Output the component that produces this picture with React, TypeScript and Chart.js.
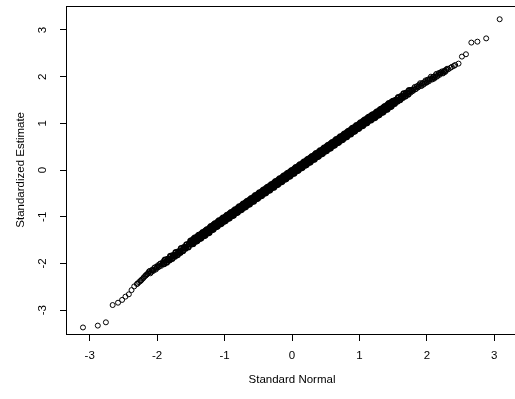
import { useEffect, useRef } from "react";
import { Chart, registerables } from "chart.js";

Chart.register(...registerables);

// ---- Data (x = standard normal quantile, y = standardized estimate) ----
const lowerTailX: number[] = [
  -3.10, -2.88, -2.76, -2.66, -2.58, -2.52, -2.47, -2.42, -2.38, -2.34, -2.30, -2.29, -2.27, -2.25, -2.24, -2.23,
  -2.21, -2.20, -2.18, -2.17, -2.16, -2.15, -2.14,
];
const lowerTailY: number[] = [
  -3.37, -3.33, -3.26, -2.89, -2.84, -2.78, -2.71, -2.66, -2.57, -2.49, -2.44, -2.43, -2.40, -2.38, -2.36, -2.35,
  -2.32, -2.30, -2.27, -2.26, -2.24, -2.23, -2.22,
];

const lowerOuterX: number[] = [
  -2.13, -2.12, -2.11, -2.10, -2.09, -2.08, -2.07, -2.06, -2.05, -2.04, -2.03, -2.02, -2.01, -2.00, -1.99, -1.98,
  -1.97, -1.96, -1.95, -1.94, -1.93, -1.92, -1.91,
];
const lowerOuterY: number[] = [
  -2.20, -2.17, -2.16, -2.21, -2.19, -2.15, -2.13, -2.16, -2.14, -2.09, -2.08, -2.13, -2.10, -2.07, -2.04, -2.08,
  -2.06, -2.01, -2.00, -2.05, -2.02, -1.99, -1.96,
];

const lowerInnerX: number[] = [
  -1.90, -1.88, -1.86, -1.84, -1.82, -1.80, -1.78, -1.76, -1.74, -1.72, -1.70, -1.68, -1.66, -1.64, -1.62, -1.60,
  -1.58, -1.56, -1.54, -1.52,
];
const lowerInnerY: number[] = [
  -2.00, -1.93, -1.97, -1.91, -1.92, -1.85, -1.89, -1.83, -1.84, -1.77, -1.81, -1.75, -1.76, -1.68, -1.72, -1.66,
  -1.67, -1.60, -1.64, -1.58,
];

const centralX: number[] = [
  -1.50, -1.49, -1.48, -1.47, -1.46, -1.45, -1.44, -1.43, -1.42, -1.41, -1.40, -1.39,
  -1.38, -1.37, -1.36, -1.35, -1.34, -1.33, -1.32, -1.31, -1.30, -1.29, -1.28, -1.27,
  -1.26, -1.25, -1.24, -1.23, -1.22, -1.21, -1.20, -1.19, -1.18, -1.17, -1.16, -1.15,
  -1.14, -1.13, -1.12, -1.11, -1.10, -1.09, -1.08, -1.07, -1.06, -1.05, -1.04, -1.03,
  -1.02, -1.01, -1.00, -0.99, -0.98, -0.97, -0.96, -0.95, -0.94, -0.93, -0.92, -0.91,
  -0.90, -0.89, -0.88, -0.87, -0.86, -0.85, -0.84, -0.83, -0.82, -0.81, -0.80, -0.79,
  -0.78, -0.77, -0.76, -0.75, -0.74, -0.73, -0.72, -0.71, -0.70, -0.69, -0.68, -0.67,
  -0.66, -0.65, -0.64, -0.63, -0.62, -0.61, -0.60, -0.59, -0.58, -0.57, -0.56, -0.55,
  -0.54, -0.53, -0.52, -0.51, -0.50, -0.49, -0.48, -0.47, -0.46, -0.45, -0.44, -0.43,
  -0.42, -0.41, -0.40, -0.39, -0.38, -0.37, -0.36, -0.35, -0.34, -0.33, -0.32, -0.31,
  -0.30, -0.29, -0.28, -0.27, -0.26, -0.25, -0.24, -0.23, -0.22, -0.21, -0.20, -0.19,
  -0.18, -0.17, -0.16, -0.15, -0.14, -0.13, -0.12, -0.11, -0.10, -0.09, -0.08, -0.07,
  -0.06, -0.05, -0.04, -0.03, -0.02, -0.01, 0.00, 0.01, 0.02, 0.03, 0.04, 0.05,
  0.06, 0.07, 0.08, 0.09, 0.10, 0.11, 0.12, 0.13, 0.14, 0.15, 0.16, 0.17,
  0.18, 0.19, 0.20, 0.21, 0.22, 0.23, 0.24, 0.25, 0.26, 0.27, 0.28, 0.29,
  0.30, 0.31, 0.32, 0.33, 0.34, 0.35, 0.36, 0.37, 0.38, 0.39, 0.40, 0.41,
  0.42, 0.43, 0.44, 0.45, 0.46, 0.47, 0.48, 0.49, 0.50, 0.51, 0.52, 0.53,
  0.54, 0.55, 0.56, 0.57, 0.58, 0.59, 0.60, 0.61, 0.62, 0.63, 0.64, 0.65,
  0.66, 0.67, 0.68, 0.69, 0.70, 0.71, 0.72, 0.73, 0.74, 0.75, 0.76, 0.77,
  0.78, 0.79, 0.80, 0.81, 0.82, 0.83, 0.84, 0.85, 0.86, 0.87, 0.88, 0.89,
  0.90, 0.91, 0.92, 0.93, 0.94, 0.95, 0.96, 0.97, 0.98, 0.99, 1.00, 1.01,
  1.02, 1.03, 1.04, 1.05, 1.06, 1.07, 1.08, 1.09, 1.10, 1.11, 1.12, 1.13,
  1.14, 1.15, 1.16, 1.17, 1.18, 1.19, 1.20, 1.21, 1.22, 1.23, 1.24, 1.25,
  1.26, 1.27, 1.28, 1.29, 1.30, 1.31, 1.32, 1.33, 1.34, 1.35, 1.36, 1.37,
  1.38, 1.39, 1.40, 1.41, 1.42, 1.43, 1.44, 1.45, 1.46, 1.47, 1.48, 1.49,
];
const centralY: number[] = [
  -1.52, -1.58, -1.53, -1.57, -1.49, -1.52, -1.46, -1.52, -1.47, -1.51, -1.43, -1.46,
  -1.40, -1.46, -1.41, -1.45, -1.37, -1.40, -1.34, -1.40, -1.35, -1.39, -1.31, -1.34,
  -1.28, -1.34, -1.29, -1.33, -1.25, -1.28, -1.21, -1.27, -1.22, -1.26, -1.18, -1.21,
  -1.15, -1.21, -1.16, -1.20, -1.12, -1.15, -1.09, -1.15, -1.10, -1.14, -1.06, -1.09,
  -1.03, -1.09, -1.04, -1.08, -1.00, -1.03, -0.97, -1.03, -0.98, -1.02, -0.94, -0.97,
  -0.91, -0.97, -0.92, -0.96, -0.88, -0.91, -0.85, -0.91, -0.86, -0.90, -0.82, -0.85,
  -0.79, -0.85, -0.80, -0.84, -0.76, -0.79, -0.73, -0.79, -0.74, -0.78, -0.70, -0.73,
  -0.67, -0.73, -0.68, -0.72, -0.64, -0.67, -0.61, -0.67, -0.62, -0.66, -0.58, -0.61,
  -0.55, -0.61, -0.56, -0.60, -0.52, -0.55, -0.49, -0.55, -0.50, -0.54, -0.46, -0.49,
  -0.43, -0.49, -0.44, -0.48, -0.40, -0.43, -0.37, -0.43, -0.38, -0.42, -0.34, -0.37,
  -0.31, -0.37, -0.32, -0.36, -0.28, -0.31, -0.25, -0.31, -0.26, -0.30, -0.22, -0.25,
  -0.19, -0.25, -0.20, -0.24, -0.16, -0.19, -0.13, -0.19, -0.14, -0.18, -0.10, -0.13,
  -0.07, -0.13, -0.08, -0.12, -0.04, -0.07, -0.01, -0.07, -0.02, -0.06, 0.02, -0.01,
  0.05, -0.01, 0.04, 0.00, 0.08, 0.05, 0.11, 0.05, 0.10, 0.06, 0.14, 0.11,
  0.17, 0.11, 0.16, 0.12, 0.20, 0.17, 0.23, 0.17, 0.22, 0.18, 0.26, 0.23,
  0.29, 0.23, 0.28, 0.24, 0.32, 0.29, 0.35, 0.29, 0.34, 0.30, 0.38, 0.35,
  0.41, 0.35, 0.40, 0.36, 0.44, 0.41, 0.47, 0.41, 0.46, 0.42, 0.50, 0.47,
  0.53, 0.47, 0.52, 0.48, 0.56, 0.53, 0.59, 0.53, 0.58, 0.54, 0.62, 0.59,
  0.65, 0.59, 0.64, 0.60, 0.68, 0.65, 0.71, 0.65, 0.70, 0.66, 0.74, 0.71,
  0.77, 0.71, 0.76, 0.72, 0.80, 0.77, 0.83, 0.77, 0.82, 0.78, 0.86, 0.83,
  0.89, 0.83, 0.88, 0.84, 0.92, 0.89, 0.95, 0.89, 0.94, 0.90, 0.98, 0.95,
  1.01, 0.95, 1.00, 0.96, 1.04, 1.01, 1.07, 1.01, 1.06, 1.02, 1.10, 1.07,
  1.13, 1.07, 1.12, 1.08, 1.16, 1.13, 1.18, 1.12, 1.17, 1.13, 1.21, 1.18,
  1.24, 1.18, 1.23, 1.19, 1.27, 1.24, 1.30, 1.24, 1.29, 1.25, 1.33, 1.30,
  1.36, 1.30, 1.35, 1.31, 1.39, 1.36, 1.42, 1.36, 1.41, 1.37, 1.45, 1.42,
];

const upperInnerX: number[] = [1.50, 1.52, 1.54, 1.56, 1.58, 1.60, 1.62, 1.64, 1.66, 1.68, 1.70, 1.72, 1.74];
const upperInnerY: number[] = [1.47, 1.43, 1.49, 1.48, 1.55, 1.51, 1.57, 1.56, 1.63, 1.59, 1.65, 1.63, 1.70];

const upperOuterX: number[] = [
  1.75, 1.76, 1.77, 1.78, 1.79, 1.80, 1.81, 1.82, 1.83, 1.84, 1.85, 1.86, 1.87, 1.88, 1.89, 1.90,
  1.91, 1.92, 1.93, 1.94, 1.95, 1.96, 1.97, 1.98, 1.99, 2.00, 2.01, 2.02, 2.03, 2.04, 2.05, 2.06,
  2.07, 2.08, 2.09, 2.10, 2.11, 2.12, 2.13, 2.14, 2.15, 2.16, 2.17, 2.18, 2.19, 2.20, 2.21, 2.22,
  2.23, 2.24, 2.25, 2.26, 2.27, 2.28, 2.29, 2.30,
];
const upperOuterY: number[] = [
  1.68, 1.66, 1.71, 1.72, 1.69, 1.71, 1.75, 1.78, 1.73, 1.74, 1.79, 1.80, 1.77, 1.79, 1.83, 1.86,
  1.81, 1.80, 1.86, 1.86, 1.83, 1.85, 1.89, 1.92, 1.87, 1.88, 1.93, 1.94, 1.90, 1.93, 1.96, 2.00,
  1.95, 1.94, 1.99, 2.00, 1.96, 1.99, 2.03, 2.06, 2.00, 2.02, 2.05, 2.08, 2.04, 2.07, 2.09, 2.11,
  2.08, 2.07, 2.11, 2.13, 2.10, 2.12, 2.15, 2.17,
];

const upperTailX: number[] = [2.32, 2.35, 2.37, 2.40, 2.42, 2.47, 2.52, 2.58, 2.66, 2.75, 2.88, 3.08];
const upperTailY: number[] = [2.16, 2.19, 2.21, 2.23, 2.25, 2.28, 2.43, 2.48, 2.73, 2.75, 2.82, 3.23];

// densely overplotted core of the plot vs. sparser ends
const coreX: number[] = [...lowerInnerX, ...centralX, ...upperInnerX];
const coreY: number[] = [...lowerInnerY, ...centralY, ...upperInnerY];
const sparseX: number[] = [...lowerTailX, ...lowerOuterX, ...upperOuterX, ...upperTailX];
const sparseY: number[] = [...lowerTailY, ...lowerOuterY, ...upperOuterY, ...upperTailY];

const xTicks: number[] = [-3, -2, -1, 0, 1, 2, 3];
const yTicks: number[] = [-3, -2, -1, 0, 1, 2, 3];
const xTitle = "Standard Normal";
const yTitle = "Standardized Estimate";

const FONT = "'Liberation Sans', Arial, Helvetica, sans-serif";

const framePlugin = {
  id: "frameBox",
  afterDatasetsDraw(chart: any) {
    const { ctx, chartArea } = chart;
    ctx.save();
    ctx.strokeStyle = "#000";
    ctx.lineWidth = 1;
    const l = Math.round(chartArea.left) - 0.5;
    const t = Math.round(chartArea.top) + 0.5;
    const r = Math.round(chartArea.right) + 0.5;
    const b = Math.round(chartArea.bottom) + 0.5;
    ctx.strokeRect(l, t, r - l, b - t);
    ctx.restore();
  },
};

export default function App() {
  const ref = useRef<HTMLCanvasElement>(null);

  useEffect(() => {
    const canvas = ref.current;
    if (!canvas) return;
    const toPts = (xs: number[], ys: number[]) => xs.map((x, i) => ({ x, y: ys[i] }));
    const chart = new Chart(canvas, {
      type: "scatter",
      data: {
        datasets: [
          {
            data: toPts(sparseX, sparseY),
            pointStyle: "circle",
            pointRadius: 2.5,
            pointBorderWidth: 1,
            borderColor: "#000",
            backgroundColor: "rgba(0,0,0,0)",
            pointBackgroundColor: "rgba(0,0,0,0)",
            pointBorderColor: "#000",
          },
          {
            data: toPts(coreX, coreY),
            pointStyle: "circle",
            pointRadius: 2.8,
            pointBorderWidth: 1.7,
            borderColor: "#000",
            backgroundColor: "rgba(0,0,0,0)",
            pointBackgroundColor: "rgba(0,0,0,0)",
            pointBorderColor: "#000",
          },
        ],
      },
      plugins: [framePlugin],
      options: {
        responsive: false,
        animation: false,
        devicePixelRatio: 1,
        layout: { padding: { left: 0, top: 5, right: 23, bottom: 0 } },
        plugins: {
          legend: { display: false },
          tooltip: { enabled: false },
        },
        scales: {
          x: {
            type: "linear",
            min: -3.337,
            max: 3.337,
            afterBuildTicks: (s: any) => {
              s.ticks = xTicks.map((v) => ({ value: v }));
            },
            afterFit: (s: any) => {
              s.height = 65;
              s.paddingLeft = 0;
              s.paddingRight = 0;
            },
            grid: {
              display: true,
              drawOnChartArea: false,
              drawTicks: true,
              tickLength: 7,
              color: "#000",
              lineWidth: 1,
            },
            border: { display: false },
            ticks: {
              color: "#000",
              font: { family: FONT, size: 11.5 },
              padding: 8,
              maxRotation: 0,
              minRotation: 0,
              autoSkip: false,
              callback: (v: any) => String(v),
            },
            title: {
              display: true,
              text: xTitle,
              color: "#000",
              font: { family: FONT, size: 11.5 },
              padding: { top: 0, bottom: 12 },
            },
          },
          y: {
            type: "linear",
            min: -3.51,
            max: 3.52,
            afterBuildTicks: (s: any) => {
              s.ticks = yTicks.map((v) => ({ value: v }));
            },
            afterFit: (s: any) => {
              s.width = 67;
              s.paddingTop = 0;
              s.paddingBottom = 0;
            },
            grid: {
              display: true,
              drawOnChartArea: false,
              drawTicks: true,
              tickLength: 7,
              color: "#000",
              lineWidth: 1,
            },
            border: { display: false },
            ticks: {
              color: "#000",
              font: { family: FONT, size: 11.5 },
              padding: 12,
              minRotation: 90,
              maxRotation: 90,
              crossAlign: "center",
              autoSkip: false,
              callback: (v: any) => String(v),
            },
            title: {
              display: true,
              text: yTitle,
              color: "#000",
              font: { family: FONT, size: 11.5 },
              padding: { top: 14, bottom: 0 },
            },
          },
        },
      },
    } as any);
    return () => chart.destroy();
  }, []);

  return (
    <div
      style={{
        position: "fixed",
        left: 0,
        top: 0,
        width: 515,
        height: 399,
        overflow: "hidden",
        background: "#fff",
      }}
    >
      <canvas ref={ref} width={540} height={399} style={{ display: "block", width: 540, height: 399 }} />
    </div>
  );
}
